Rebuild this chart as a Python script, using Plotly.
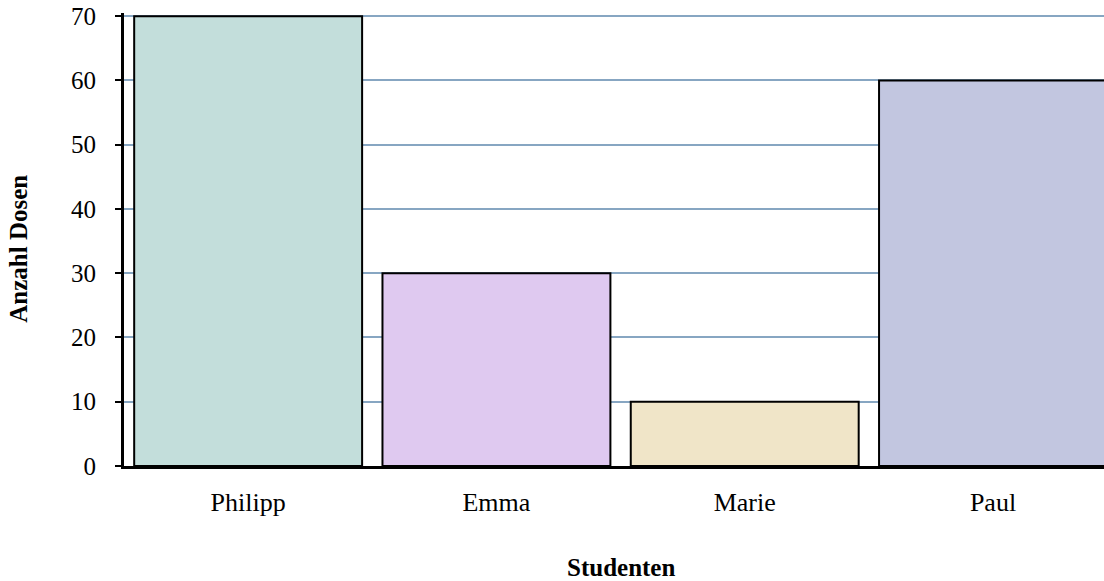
import plotly.graph_objects as go

students = ["Philipp", "Emma", "Marie", "Paul"]
cans = [70, 30, 10, 60]
colors = ["#c3dedb", "#dfc9f0", "#f0e5c8", "#c2c6e0"]
y_ticks = [0, 10, 20, 30, 40, 50, 60, 70]

fig = go.Figure()
fig.add_trace(go.Bar(
    x=students, y=cans,
    marker=dict(color=colors, line=dict(color="black", width=2)),
))

font = "Liberation Serif, Times New Roman, serif"
fig.update_layout(
    width=1104, height=581,
    margin=dict(l=124, r=0, t=13, b=115),
    plot_bgcolor="white", paper_bgcolor="white",
    bargap=0.082,
    showlegend=False,
    font=dict(family=font, size=25, color="black"),
)
fig.add_annotation(
    text="<b>Studenten</b>", xref="paper", yref="paper",
    x=0.507, y=-0.225, xanchor="center", yanchor="middle",
    showarrow=False, font=dict(size=25),
)
fig.add_annotation(
    text="<b>Anzahl Dosen</b>", xref="paper", yref="paper",
    x=-0.108, y=0.48, xanchor="center", yanchor="middle",
    textangle=-90, showarrow=False, font=dict(size=25),
)
fig.update_xaxes(
    range=[-0.5, 3.447],
    showgrid=False,
    showline=True, linecolor="black", linewidth=3,
    ticks="", ticklabelstandoff=11,
    tickfont=dict(size=26),
    automargin=False,
)
fig.update_yaxes(
    range=[0, 70.5], tickvals=y_ticks,
    showgrid=True, gridcolor="#87a6c2", gridwidth=2,
    showline=True, linecolor="black", linewidth=3,
    ticks="outside", ticklen=6, tickwidth=2, tickcolor="black",
    ticklabelstandoff=14, ticklabeloverflow="allow",
    automargin=False,
    zeroline=False,
)
fig.write_html("out.html", config={"displayModeBar": False},
               post_script="document.body.style.margin='0';")
